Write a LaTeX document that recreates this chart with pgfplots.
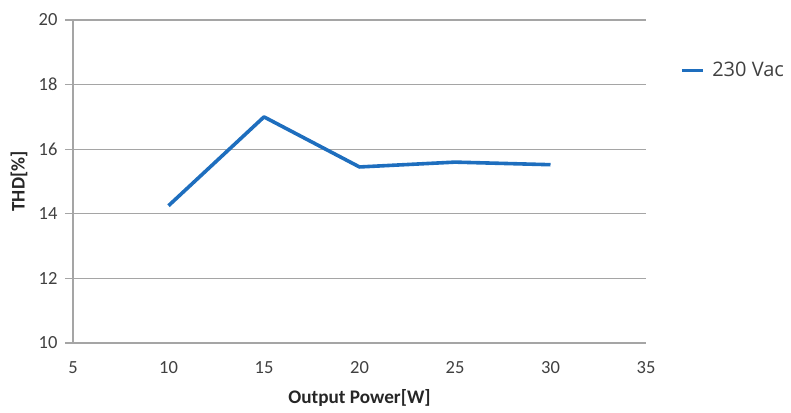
\documentclass[border=0pt]{standalone}
\usepackage{pgfplots}
\pgfplotsset{compat=1.18}
\usepackage{fontspec}
\setmainfont{Carlito}
\newfontfamily\legendfont{Open Sans}
\definecolor{serieblue}{RGB}{30,110,190}
\definecolor{gridgray}{RGB}{165,165,165}
\definecolor{labelgray}{RGB}{64,64,64}

\begin{document}
\begin{tikzpicture}
\useasboundingbox (-73pt,-69pt) rectangle (718pt,343pt);
\begin{axis}[
    at={(0,0)}, anchor=south west,
    scale only axis,
    width=573pt, height=323pt,
    xmin=5, xmax=35, ymin=10, ymax=20,
    xtick={5,10,...,35},
    ytick={10,12,...,20},
    /pgf/number format/assume math mode=true,
    axis x line*=bottom,
    axis y line*=left,
    axis line style={-, draw=gridgray, line width=1.2pt},
    ymajorgrids,
    grid style={draw=gridgray, line width=1.2pt},
    tick align=outside,
    major tick length=8pt,
    xtick style={draw=none},
    ytick style={draw=gridgray, line width=1.2pt},
    ticklabel style={font=\fontsize{18.5}{22}\selectfont, text=labelgray},
    xticklabel style={anchor=center, yshift=-17pt},
    yticklabel style={anchor=east, xshift=-4pt},
    xlabel={\textbf{Output Power[W]}},
    ylabel={\textbf{THD[\%]}},
    every axis x label/.style={at={(rel axis cs:0.5,0)}, yshift=-55pt, anchor=center,
        font=\fontsize{19.2}{22}\selectfont, text=black!85},
    every axis y label/.style={at={(rel axis cs:0,0.5)}, xshift=-54pt, rotate=90, anchor=center,
        font=\fontsize{19.2}{22}\selectfont, text=black!85},
    legend style={at={(1.0595,0.845)}, anchor=west, draw=none, fill=none,
        inner sep=0pt, font=\legendfont\fontsize{20}{24}\selectfont, text=labelgray,
        nodes={inner sep=0pt}, column sep=0pt},
    legend image code/.code={\draw[#1, line width=3pt] (0pt,0pt) -- (21pt,0pt);},
    legend cell align=left,
]
\addplot[serieblue, line width=3.6pt, line join=round] coordinates {
    (10,14.25) (15,17.0) (20,15.45) (25,15.6) (30,15.52)
};
\addlegendentry{\hspace{8pt}230 Vac}
\end{axis}
\end{tikzpicture}
\end{document}
